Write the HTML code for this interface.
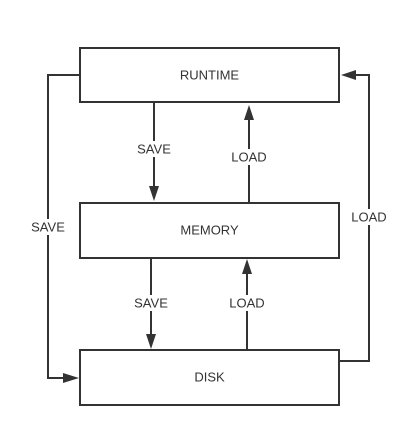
<!DOCTYPE html>
<html><head><meta charset="utf-8"><style>
html,body{margin:0;padding:0;background:#fff;width:401px;height:437px;overflow:hidden}
text{font-family:"Liberation Sans",sans-serif;font-size:13px;fill:#333}
</style></head><body>
<svg width="401" height="437" viewBox="0 0 401 437" xmlns="http://www.w3.org/2000/svg">
<g fill="none" stroke="#333" stroke-width="2">
<rect x="80" y="48" width="259" height="54" fill="#fff"/>
<rect x="80" y="203" width="259" height="55" fill="#fff"/>
<rect x="80" y="350" width="259" height="55" fill="#fff"/>
<line x1="154" y1="102" x2="154" y2="188"/>
<line x1="249" y1="203" x2="249" y2="118"/>
<line x1="151" y1="258" x2="151" y2="336"/>
<line x1="247" y1="350" x2="247" y2="272"/>
<polyline points="80,75 48,75 48,378 64,378"/>
<polyline points="339,361 369,361 369,75 354,75"/>
</g>
<g fill="#333">
<polygon points="149,186 159,186 154,201"/>
<polygon points="244,120 254,120 249,105"/>
<polygon points="146,334 156,334 151,349"/>
<polygon points="242,274 252,274 247,259"/>
<polygon points="63,373 63,383 79,378"/>
<polygon points="356,70 356,80 341,75"/>
</g>
<g fill="#fff">
<rect x="134" y="141" width="40" height="16"/>
<rect x="227" y="149" width="44" height="16"/>
<rect x="131" y="295" width="40" height="16"/>
<rect x="225" y="295" width="44" height="16"/>
<rect x="28" y="219" width="40" height="16"/>
<rect x="347" y="209" width="44" height="16"/>
</g>
<g text-anchor="middle" dominant-baseline="central">
<text x="209.5" y="75">RUNTIME</text>
<text x="209.5" y="230">MEMORY</text>
<text x="209.5" y="377">DISK</text>
<text x="154" y="149">SAVE</text>
<text x="249" y="157">LOAD</text>
<text x="151" y="303">SAVE</text>
<text x="247" y="303">LOAD</text>
<text x="48" y="227">SAVE</text>
<text x="369" y="217">LOAD</text>
</g>
</svg>
</body></html>
